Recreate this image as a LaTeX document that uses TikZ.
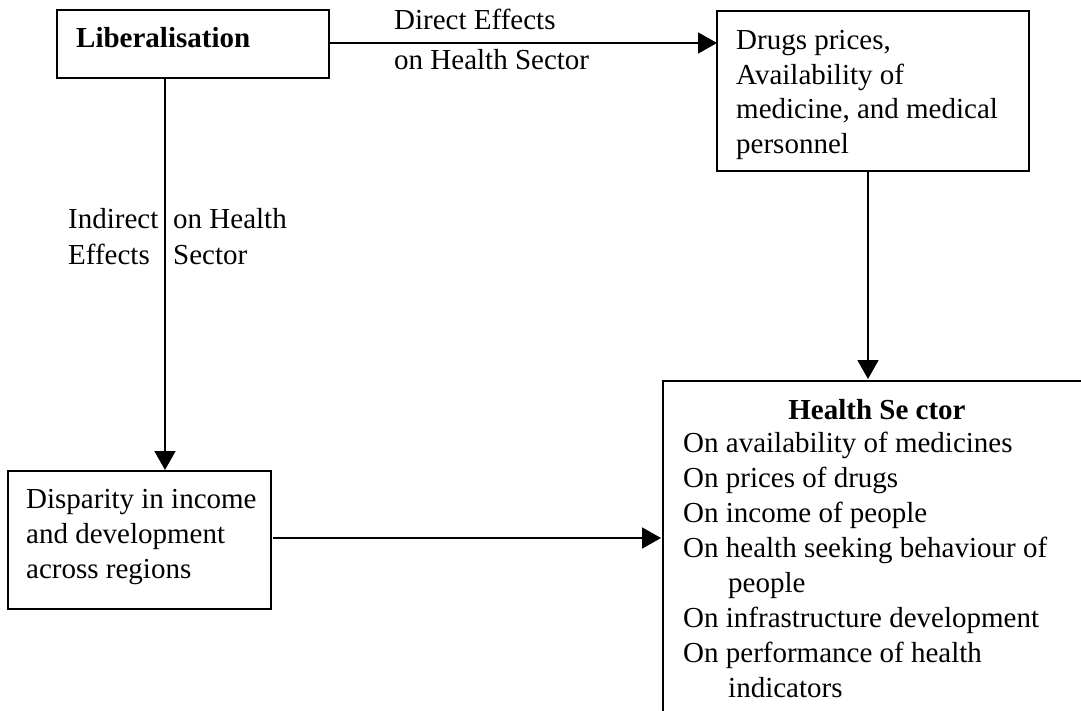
\documentclass[tikz,border=0pt]{standalone}
\usepackage{fontspec}
\setmainfont{Liberation Serif}
\usetikzlibrary{arrows.meta}
\begin{document}
\begin{tikzpicture}[x=1pt,y=-1pt,
  boxframe/.style={draw, line width=1.8pt, inner sep=0pt, outer sep=0pt, anchor=north west},
  txt/.style={anchor=base west, inner sep=0pt, font=\fontsize{29}{34.5}\selectfont},
  btxt/.style={txt, font=\fontsize{29}{34.5}\selectfont\bfseries},
  conn/.style={line width=1.8pt, -{Triangle[length=19pt,width=21pt]}},
  plain/.style={line width=1.8pt}]
\useasboundingbox (0,0) rectangle (1081,711);
\fill[white] (0,0) rectangle (1081,711);

% boxes
\node[boxframe, minimum width=272pt, minimum height=68pt] (lib) at (57,10) {};
\node[boxframe, minimum width=312pt, minimum height=160pt] (drug) at (717,11) {};
\node[boxframe, minimum width=263pt, minimum height=138pt] (disp) at (8,471) {};
\node[boxframe, minimum width=440pt, minimum height=360pt] (hs) at (663,381) {};

% texts
\node[btxt] (libt) at (76,48) {Liberalisation};

\node[txt] (d1) at (736,50) {Drugs prices,};
\node[txt] (d2) at (736,84.5) {Availability of};
\node[txt] (d3) at (736,119) {medicine, and medical};
\node[txt] (d4) at (736,153.5) {personnel};

\node[txt] (p1) at (26,508) {Disparity in income};
\node[txt] (p2) at (26,543) {and development};
\node[txt] (p3) at (26,578) {across regions};

\node[btxt, anchor=base] (h0) at (877,419) {Health Se ctor};
\node[txt] (h1) at (683,452) {On availability of medicines};
\node[txt] (h2) at (683,487) {On prices of drugs};
\node[txt] (h3) at (683,522) {On income of people};
\node[txt] (h4) at (683,557.5) {On health seeking behaviour of};
\node[txt] (h5) at (728,592.5) {people};
\node[txt] (h6) at (683,627.5) {On infrastructure development};
\node[txt] (h7) at (683,662.5) {On performance of health};
\node[txt] (h8) at (728,697) {indicators};

\node[txt] (de1) at (394,30) {Direct Effects};
\node[txt] (de2) at (394,70) {on Health Sector};

\node[txt] (ie1) at (68,229) {Indirect};
\node[txt] (ie2) at (68,265) {Effects};
\node[txt] (oh1) at (173,229) {on Health};
\node[txt] (oh2) at (173,265) {Sector};

% connectors
\coordinate (libE) at (lib.east |- 0,43);
\coordinate (drugW) at (drug.west |- 0,43);
\draw[conn] (libE) -- (drugW);

\coordinate (libS) at (165,78);
\coordinate (dispN) at (165,470);
\draw[conn] (libS) -- (dispN);

\coordinate (drugS) at (868,171);
\coordinate (hsN) at (868,379);
\draw[conn] (drugS) -- (hsN);

\coordinate (dispE) at (273,538);
\coordinate (hsW) at (661,538);
\draw[conn] (dispE) -- (hsW);
\end{tikzpicture}
\end{document}
